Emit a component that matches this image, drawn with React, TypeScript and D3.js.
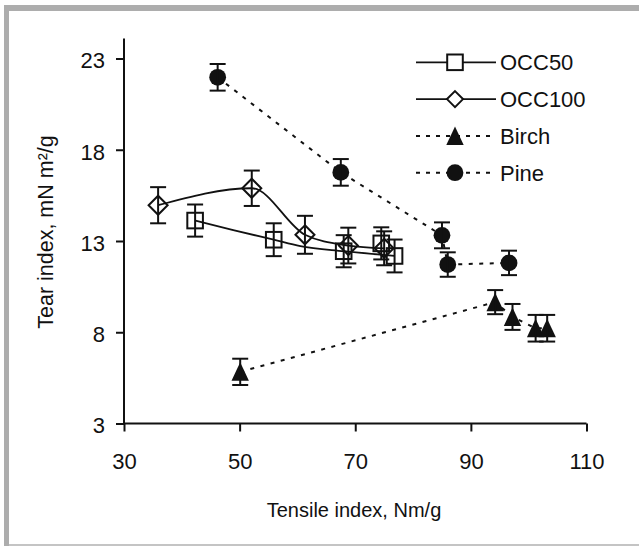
import React, { useEffect, useRef } from "react";
import * as d3 from "d3";

const xTicks = [30, 50, 70, 90, 110];
const yTicks = [3, 8, 13, 18, 23];

const occ50Tensile = [42.3, 55.9, 68.0, 74.5, 76.8];
const occ50Tear = [14.12, 13.07, 12.44, 12.87, 12.18];
const occ50Err = [0.88, 0.9, 0.88, 0.88, 0.9];
// the OCC50 curve in the source does not go through the 74.5 point
const occ50CurveTensile = [42.3, 48.9, 55.9, 60.5, 68.0, 76.8];
const occ50CurveTear = [14.12, 13.6, 13.07, 12.72, 12.44, 12.18];

const occ100Tensile = [35.9, 52.1, 61.3, 68.8, 75.0];
const occ100Tear = [14.96, 15.89, 13.34, 12.75, 12.6];
const occ100Err = [0.99, 0.97, 1.04, 0.98, 0.93];

const birchTensile = [50.1, 94.2, 97.2, 101.2, 103.2];
const birchTear = [5.83, 9.65, 8.84, 8.22, 8.22];
const birchErr = [0.72, 0.66, 0.71, 0.73, 0.73];

const pineTensile = [46.2, 67.5, 85.0, 86.0, 96.6];
const pineTear = [21.97, 16.76, 13.31, 11.71, 11.8];
const pineErr = [0.73, 0.73, 0.71, 0.67, 0.67];

const seriesNames = ["OCC50", "OCC100", "Birch", "Pine"];

const ink = "#111";
const font = "Arial, 'Liberation Sans', sans-serif";

const App = () => {
  const container = useRef<HTMLDivElement | null>(null);

  useEffect(() => {
    const width = 639;
    const height = 546;

    const x = d3.scaleLinear().domain([30, 110]).range([124, 586.5]);
    const y = d3.scaleLinear().domain([3, 23]).range([423.5, 58.5]);

    const svg = d3
      .select(container.current)
      .append("svg")
      .attr("width", width)
      .attr("height", height)
      .attr("viewBox", [0, 0, width, height])
      .style("display", "block")
      .style("background", "#fff");

    // grey frame (cropped figure border: top, left, bottom only)
    svg.append("rect").attr("x", 4).attr("y", 5).attr("width", width - 4).attr("height", 6).attr("fill", "#adadad");
    svg.append("rect").attr("x", 4).attr("y", 5).attr("width", 5).attr("height", height - 5).attr("fill", "#adadad");
    svg.append("rect").attr("x", 9).attr("y", 544).attr("width", width - 9).attr("height", 2).attr("fill", "#c4c4c4");

    // axes
    svg
      .append("g")
      .attr("transform", `translate(0,${y(3)})`)
      .call(d3.axisBottom(x).tickValues(xTicks).tickSize(8).tickPadding(22).tickFormat(d3.format("d")))
      .call((g) => g.select(".domain").remove())
      .attr("font-size", 22)
      .attr("font-family", font)
      .call((g) => g.selectAll("line").attr("stroke", ink).attr("stroke-width", 2))
      .call((g) => g.selectAll("text").attr("fill", ink));

    svg
      .append("g")
      .attr("transform", `translate(${x(30)},0)`)
      .call(d3.axisLeft(y).tickValues(yTicks).tickSize(8).tickPadding(11).tickFormat(d3.format("d")))
      .call((g) => g.select(".domain").remove())
      .attr("font-size", 22)
      .attr("font-family", font)
      .call((g) => g.selectAll("line").attr("stroke", ink).attr("stroke-width", 2))
      .call((g) => g.selectAll("text").attr("fill", ink).attr("dy", "0.42em"));

    svg
      .append("line")
      .attr("x1", x(30))
      .attr("x2", x(30))
      .attr("y1", y(3))
      .attr("y2", y(24.1))
      .attr("stroke", ink)
      .attr("stroke-width", 2);
    svg
      .append("line")
      .attr("x1", x(30))
      .attr("x2", x(110))
      .attr("y1", y(3))
      .attr("y2", y(3))
      .attr("stroke", ink)
      .attr("stroke-width", 2);

    // axis titles
    svg
      .append("text")
      .attr("x", 354)
      .attr("y", 517)
      .attr("text-anchor", "middle")
      .attr("font-family", font)
      .attr("font-size", 20)
      .attr("fill", ink)
      .text("Tensile index, Nm/g");

    svg
      .append("text")
      .attr("transform", "translate(53,232) rotate(-90)")
      .attr("text-anchor", "middle")
      .attr("font-family", font)
      .attr("font-size", 21.5)
      .attr("fill", ink)
      .text("Tear index, mN m²/g");

    const zip = (xs, ys) => xs.map((v, i) => [v, ys[i]]);
    const curve = d3
      .line()
      .x((d) => x(d[0]))
      .y((d) => y(d[1]))
      .curve(d3.curveMonotoneX);
    const straight = d3
      .line()
      .x((d) => x(d[0]))
      .y((d) => y(d[1]));

    const dash = "4,6.5";

    // series lines
    svg.append("path").attr("d", curve(zip(occ50CurveTensile, occ50CurveTear))).attr("fill", "none").attr("stroke", ink).attr("stroke-width", 1.8);
    const occ100Sorted = zip(occ100Tensile, occ100Tear).sort((a, b) => a[0] - b[0]);
    svg.append("path").attr("d", curve(occ100Sorted)).attr("fill", "none").attr("stroke", ink).attr("stroke-width", 1.8);
    svg.append("path").attr("d", straight(zip(birchTensile, birchTear))).attr("fill", "none").attr("stroke", ink).attr("stroke-width", 2).attr("stroke-dasharray", dash);
    svg.append("path").attr("d", straight(zip(pineTensile, pineTear))).attr("fill", "none").attr("stroke", ink).attr("stroke-width", 2).attr("stroke-dasharray", dash);

    const marker = (g, shape, cx, cy, fill) => {
      if (shape === "square") {
        g.append("rect").attr("x", cx - 7.8).attr("y", cy - 7.8).attr("width", 15.6).attr("height", 15.6)
          .attr("fill", fill).attr("stroke", ink).attr("stroke-width", 2);
      } else if (shape === "diamond") {
        const r = fill === "none" ? 9.5 : 8;
        g.append("path").attr("d", `M${cx},${cy - r}L${cx + r},${cy}L${cx},${cy + r}L${cx - r},${cy}Z`)
          .attr("fill", fill).attr("stroke", ink).attr("stroke-width", 2);
      } else if (shape === "triangle") {
        g.append("path").attr("d", `M${cx},${cy - 9.5}L${cx + 8.7},${cy + 9}L${cx - 8.7},${cy + 9}Z`)
          .attr("fill", ink);
      } else {
        g.append("circle").attr("cx", cx).attr("cy", cy).attr("r", 8.4).attr("fill", ink);
      }
    };

    const series = [
      { xs: occ50Tensile, ys: occ50Tear, err: occ50Err, shape: "square" },
      { xs: occ100Tensile, ys: occ100Tear, err: occ100Err, shape: "diamond" },
      { xs: birchTensile, ys: birchTear, err: birchErr, shape: "triangle" },
      { xs: pineTensile, ys: pineTear, err: pineErr, shape: "circle" },
    ];

    const marks = svg.append("g");
    series.forEach((s) => {
      s.xs.forEach((v, i) => marker(marks, s.shape, x(v), y(s.ys[i]), "none"));
    });

    // error bars on top
    const bars = svg.append("g").attr("stroke", ink).attr("stroke-width", 2).attr("fill", "none");
    series.forEach((s) => {
      s.xs.forEach((v, i) => {
        const cx = x(v);
        const top = y(s.ys[i] + s.err[i]);
        const bot = y(s.ys[i] - s.err[i]);
        bars.append("line").attr("x1", cx).attr("x2", cx).attr("y1", top).attr("y2", bot);
        bars.append("line").attr("x1", cx - 8).attr("x2", cx + 8).attr("y1", top).attr("y2", top);
        bars.append("line").attr("x1", cx - 8).attr("x2", cx + 8).attr("y1", bot).attr("y2", bot);
      });
    });

    // legend
    const legend = svg.append("g");
    series.forEach((s, i) => {
      const ly = 62.3 + i * 36.8;
      const solid = i < 2;
      legend.append("line").attr("x1", 416).attr("x2", 496).attr("y1", ly).attr("y2", ly)
        .attr("stroke", ink).attr("stroke-width", solid ? 1.8 : 2)
        .attr("stroke-dasharray", solid ? null : "4,6");
      marker(legend, s.shape, 455, ly, "#fff");
      legend.append("text").attr("x", 500).attr("y", ly + 7.8)
        .attr("font-family", font).attr("font-size", 22).attr("fill", ink)
        .text(seriesNames[i]);
    });

    return () => {
      svg.remove();
    };
  }, []);

  return <div ref={container} style={{ position: "absolute", left: 0, top: 0 }}></div>;
};

export default App;
